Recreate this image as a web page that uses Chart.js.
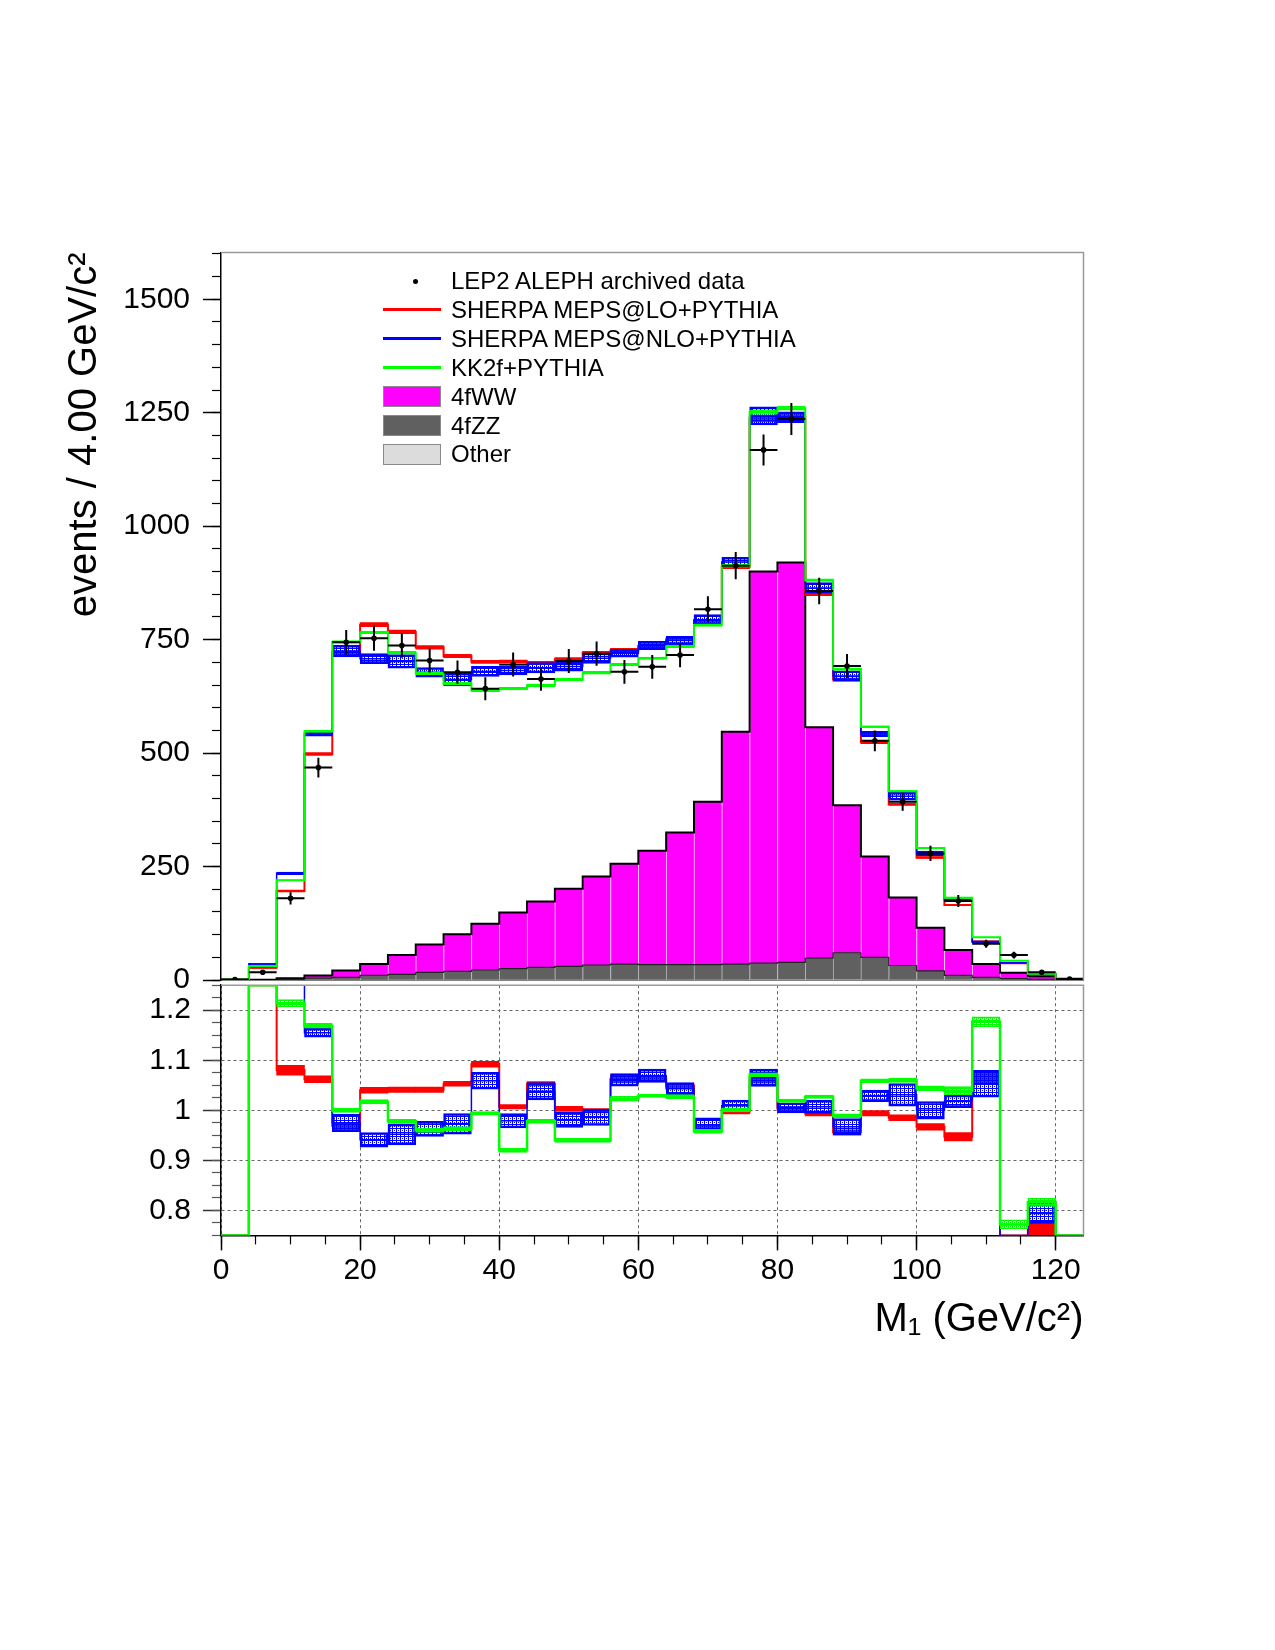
<!DOCTYPE html>
<html>
<head>
<meta charset="utf-8">
<title>M1 distribution, LEP2 ALEPH</title>
<script src="https://cdn.jsdelivr.net/npm/chart.js@4.4.1/dist/chart.umd.min.js"></script>
<style>
  html, body { margin: 0; padding: 0; background: #fff; }
  #wrap { position: relative; width: 1275px; height: 1650px; font-family: "Liberation Sans", Arial, Helvetica, sans-serif; }
  #wrap canvas { position: absolute; left: 0; top: 0; }
  .legText { position: absolute; left: 451px; font-size: 24px; line-height: 28px; height: 28px; color: #000; white-space: nowrap; }
  .legSwatch { position: absolute; box-sizing: border-box; }
</style>
</head>
<body>
<div id="wrap">
  <canvas id="ratioChart" width="1275" height="1650"></canvas>
  <canvas id="mainChart" width="1275" height="1650"></canvas>
  <div id="legend"></div>
</div>
<script>
// Bins de 4 GeV/c2 entre 0 et 124
const binCenters = [2, 6, 10, 14, 18, 22, 26, 30, 34, 38, 42, 46, 50, 54, 58, 62, 66, 70, 74, 78, 82, 86, 90, 94, 98, 102, 106, 110, 114, 118, 122];
const binWidth = 4;

// Donnees ALEPH (evenements / bin)
const dataCounts = [1, 17, 180, 468, 744, 753, 737, 704, 678, 642, 695, 663, 703, 719, 679, 690, 716, 817, 913, 1168, 1236, 857, 692, 527, 393, 279, 174, 80, 55, 17, 2];

// Predictions MC (panneau du haut) et demi-largeur des bandes
const sherpaLO = [1, 27, 196, 498, 720, 783, 767, 733, 714, 701, 702, 699, 707, 721, 726, 735, 751, 791, 910, 1237, 1240, 851, 662, 524, 387, 270, 165, 85, 37, 13, 1];
const sherpaLOErr = [0.2, 1, 2, 3, 4, 4.5, 4, 4, 3.5, 3.5, 3, 3, 3.5, 3, 5, 3.5, 3, 2.5, 3.5, 7, 6, 4, 3.5, 3, 2.2, 1.9, 1.4, 1, 0.6, 0.2, 0.1];
const sherpaNLO = [1, 35, 235, 542, 725, 708, 702, 678, 662, 680, 682, 688, 691, 709, 720, 737, 748, 794, 921, 1243, 1240, 864, 670, 542, 405, 279, 177, 84, 38, 13.5, 1];
const sherpaNLOErr = [0.3, 1.5, 3, 5, 13, 11, 15, 10.5, 14, 11, 10, 11.5, 10.5, 11.5, 8.5, 9, 9, 11, 10.5, 20, 12, 11.5, 11.5, 6, 8.9, 4.9, 2.2, 2.2, 1, 0.35, 0.1];
const kk2f = [1, 31, 220, 548, 745, 766, 721, 676, 653, 638, 642, 649, 662, 677, 695, 709, 735, 782, 913, 1251, 1260, 881, 685, 558, 416, 291, 181, 94, 42.5, 14, 1];
const kk2fErr = [0.1, 0.8, 1.5, 2.5, 3, 3, 3, 3, 3, 2.5, 3, 3, 3, 3, 3, 2.5, 3, 3, 3.5, 5, 4.5, 3, 3, 2, 1.7, 1.3, 1.5, 0.8, 0.4, 0.15, 0.05];

// Fonds empiles
const ww4f = [0, 0.5, 2, 6, 15, 25, 42.5, 61, 82, 102, 124, 145, 171, 195, 221, 251, 291, 359, 512, 863, 881, 509, 325, 222, 150, 95, 56, 29, 13, 6.5, 2.2];
const zz4f = [0, 0, 2, 3.5, 5.5, 9.5, 11.5, 16, 18, 21, 24, 27, 29, 32, 34, 33, 33, 33, 34, 35.5, 37.5, 46.5, 58.5, 49, 31, 19, 9, 5.5, 2.5, 1, 0.3];
const otherBkg = [0, 0, 0, 0.5, 0.5, 0.5, 1, 1, 1, 1, 1, 1, 1, 1, 1, 1, 1, 1, 1, 1.5, 1.5, 1.5, 1.5, 1, 1, 1, 1, 0.5, 0.5, 0.5, 0.5];

// Rapport MC / donnees (panneau du bas) et demi-largeur des bandes
const ratioLO = [0.5, 1.6, 1.080, 1.062, 0.969, 1.040, 1.041, 1.041, 1.053, 1.092, 1.007, 1.053, 1.003, 0.999, 1.063, 1.063, 1.049, 0.967, 0.997, 1.061, 1.003, 0.993, 0.956, 0.994, 0.985, 0.967, 0.947, 1.066, 0.68, 0.763, 0.5];
const ratioLOErr = [0, 0, 0.010, 0.0067, 0.006, 0.0057, 0.0053, 0.0053, 0.005, 0.0057, 0.0043, 0.0043, 0.005, 0.0043, 0.008, 0.005, 0.0043, 0.003, 0.004, 0.0067, 0.005, 0.0043, 0.005, 0.0053, 0.0057, 0.0067, 0.0083, 0.0117, 0.012, 0.0117, 0];
const ratioNLO = [0.5, 2.0, 1.30, 1.155, 0.975, 0.941, 0.952, 0.963, 0.973, 1.059, 0.979, 1.038, 0.981, 0.986, 1.061, 1.069, 1.043, 0.971, 1.009, 1.065, 1.005, 1.007, 0.967, 1.029, 1.031, 1.000, 1.018, 1.053, 0.69, 0.794, 0.5];
const ratioNLOErr = [0, 0, 0.012, 0.009, 0.0176, 0.0146, 0.021, 0.015, 0.0206, 0.017, 0.0143, 0.0173, 0.015, 0.0163, 0.0126, 0.0133, 0.0126, 0.014, 0.0116, 0.0173, 0.01, 0.0133, 0.0166, 0.0116, 0.0226, 0.0176, 0.0126, 0.027, 0.02, 0.02, 0];
const ratioKK = [0.5, 1.8, 1.214, 1.169, 1.000, 1.017, 0.978, 0.960, 0.963, 0.994, 0.920, 0.978, 0.940, 0.940, 1.023, 1.029, 1.027, 0.958, 1.001, 1.071, 1.019, 1.027, 0.989, 1.059, 1.060, 1.044, 1.039, 1.177, 0.772, 0.816, 0.5];
const ratioKKErr = [0, 0, 0.0073, 0.005, 0.004, 0.0043, 0.004, 0.0043, 0.0043, 0.0035, 0.004, 0.004, 0.004, 0.004, 0.005, 0.0035, 0.0043, 0.004, 0.004, 0.004, 0.0035, 0.0035, 0.004, 0.0037, 0.0043, 0.0047, 0.0083, 0.01, 0.0093, 0.0083, 0];

// Graduations
const mainYMajor = [0, 250, 500, 750, 1000, 1250, 1500];
const ratioYMajor = [0.8, 0.9, 1, 1.1, 1.2];
const xMajor = [0, 20, 40, 60, 80, 100, 120];

const FONT = "'Liberation Sans', Arial, Helvetica, sans-serif";
const RED = '#ff0000', BLUE = '#0000ff', GREEN = '#00ff00';
const MAGENTA = '#ff00ff', ZZGRAY = '#606060', OTHERGRAY = '#dcdcdc';

Chart.defaults.font.family = FONT;
Chart.defaults.color = '#000';

function range(from, to, step) {
    const out = [];
    for (let v = from; v <= to + 1e-9; v += step) out.push(Math.round(v * 1000) / 1000);
    return out;
}
const mainYMinor = range(0, 1600, 50);
const ratioYMinor = range(0.75, 1.25, 0.025);
const xMinor = range(0, 120, 5);

const setTicks = list => scale => { scale.ticks = list.map(v => ({ value: v })); };

// Motif hachure a la ROOT (trous transparents)
function makePattern(color) {
    const tile = document.createElement('canvas');
    tile.width = 4;
    tile.height = 4;
    const t = tile.getContext('2d');
    t.fillStyle = color;
    t.fillRect(0, 0, 4, 1);
    t.fillRect(0, 0, 1, 4);
    t.fillRect(2, 2, 1, 1);
    return t.createPattern(tile, 'repeat');
}
const bluePattern = makePattern(BLUE);
const greenPattern = makePattern(GREEN);

// Histogramme en escalier: un point par bord gauche + le dernier bord droit
function binSteps(values) {
    const pts = values.map((v, i) => ({ x: binCenters[i] - binWidth / 2, y: v }));
    pts.push({ x: binCenters[binCenters.length - 1] + binWidth / 2, y: values[values.length - 1] });
    return pts;
}

function stepLine(label, values, color, width, order) {
    return {
        type: 'line', label, data: binSteps(values), stepped: true,
        borderColor: color, borderWidth: width, pointRadius: 0, fill: false, order
    };
}

function floatBars(label, lo, hi, fill, border, borderWidth, order, clip) {
    return {
        type: 'bar', label,
        data: lo.map((v, i) => ({ x: binCenters[i], y: [v, hi[i]] })),
        backgroundColor: fill, borderColor: border, borderWidth, borderSkipped: false,
        grouped: false, barPercentage: 1, categoryPercentage: 1, order, clip
    };
}

function band(label, values, errs, fill, border, borderWidth, order, clip) {
    const lo = values.map((v, i) => v - errs[i]);
    const hi = values.map((v, i) => v + errs[i]);
    return floatBars(label, lo, hi, fill, border, borderWidth, order, clip);
}

// Cadre gris (haut et droite) comme dans ROOT
const framePlugin = {
    id: 'frame',
    afterDatasetsDraw(chart) {
        const { ctx, chartArea: a } = chart;
        ctx.save();
        ctx.strokeStyle = '#9a9a9a';
        ctx.lineWidth = 1.5;
        ctx.beginPath();
        ctx.moveTo(a.left, a.top);
        ctx.lineTo(a.right, a.top);
        ctx.lineTo(a.right, a.bottom);
        ctx.stroke();
        ctx.restore();
    }
};

// ---------- Panneau du haut ----------
const zzTop = zz4f.map((v, i) => v + otherBkg[i]);
const stackTop = ww4f.map((v, i) => v + zzTop[i]);
const zeros = binCenters.map(() => 0);

const errV = [];
const errH = [];
binCenters.forEach((c, i) => {
    const n = dataCounts[i];
    const e = Math.sqrt(n);
    errV.push({ x: c, y: n - e }, { x: c, y: n + e }, { x: c, y: null });
    errH.push({ x: c - binWidth / 2, y: n }, { x: c + binWidth / 2, y: n }, { x: c + binWidth / 2, y: null });
});

new Chart(document.getElementById('mainChart'), {
    type: 'line',
    data: {
        datasets: [
            { type: 'line', label: 'LEP2 ALEPH archived data', data: binCenters.map((c, i) => ({ x: c, y: dataCounts[i] })),
              showLine: false, pointRadius: 2.8, pointBackgroundColor: '#000', pointBorderWidth: 0, order: 0 },
            { type: 'line', label: 'err-v', data: errV, borderColor: '#000', borderWidth: 2, pointRadius: 0, spanGaps: false, order: 0 },
            { type: 'line', label: 'err-h', data: errH, borderColor: '#000', borderWidth: 2, pointRadius: 0, spanGaps: false, order: 0 },
            stepLine('KK2f+PYTHIA', kk2f, GREEN, 2, 1),
            band('KK2f band', kk2f, kk2fErr, greenPattern, GREEN, 1, 2),
            stepLine('SHERPA MEPS@NLO+PYTHIA', sherpaNLO, BLUE, 1.5, 3),
            band('NLO band', sherpaNLO, sherpaNLOErr, bluePattern, BLUE, 2, 4),
            stepLine('SHERPA MEPS@LO+PYTHIA', sherpaLO, RED, 2, 5),
            band('LO band', sherpaLO, sherpaLOErr, RED, RED, 0, 6),
            stepLine('stack outline', stackTop, '#000', 2, 7),
            stepLine('zz outline', zzTop, '#222', 1.2, 8),
            floatBars('4fWW', zzTop, stackTop, MAGENTA, 'rgba(255,200,255,0.8)', { left: 1, top: 0, right: 0, bottom: 0 }, 9),
            floatBars('4fZZ', otherBkg, zzTop, ZZGRAY, 'rgba(170,170,170,0.8)', { left: 1, top: 0, right: 0, bottom: 0 }, 10),
            floatBars('Other', zeros, otherBkg, OTHERGRAY, OTHERGRAY, 0, 11)
        ]
    },
    options: {
        responsive: false,
        animation: false,
        devicePixelRatio: 1,
        events: [],
        layout: { padding: { left: 0, right: 191.5, top: 252.5, bottom: 670 } },
        plugins: { legend: { display: false }, tooltip: { enabled: false } },
        scales: {
            x: {
                type: 'linear', position: 'bottom', min: 0, max: 124, offset: false, z: 1,
                afterBuildTicks: setTicks(xMajor),
                ticks: { display: false },
                grid: { display: false, offset: false },
                border: { display: true, color: '#000', width: 1.5 },
                afterFit: s => { s.height = 0; }
            },
            y: {
                type: 'linear', position: 'left', weight: 1, min: 0, max: 1603, z: 1,
                afterBuildTicks: setTicks(mainYMajor),
                ticks: { font: { size: 30 }, color: '#000', padding: 13, autoSkip: false, callback: v => String(v) },
                grid: { drawOnChartArea: false, tickLength: 18, tickColor: '#000', tickWidth: 1.5 },
                border: { color: '#000', width: 1.5 },
                title: { display: true, text: 'events / 4.00 GeV/c²', align: 'end', color: '#000',
                         font: { size: 40 }, padding: { top: 61, bottom: 0 } },
                afterFit: s => { s.width = 221; }
            },
            yMinor: {
                type: 'linear', position: 'left', weight: 0, min: 0, max: 1603, z: 1,
                afterBuildTicks: setTicks(mainYMinor),
                ticks: { display: false },
                grid: { drawOnChartArea: false, tickLength: 9, tickColor: '#000', tickWidth: 1.2 },
                border: { display: false },
                afterFit: s => { s.width = 0; }
            }
        }
    },
    plugins: [framePlugin]
});

// ---------- Panneau du rapport ----------
const ratioMin = 0.75, ratioMax = 1.25;
const clampR = arr => arr.map(v => Math.min(Math.max(v, ratioMin), ratioMax));

new Chart(document.getElementById('ratioChart'), {
    type: 'line',
    data: {
        datasets: [
            stepLine('KK2f ratio', clampR(ratioKK), GREEN, 2.5, 1),
            band('KK2f ratio band', ratioKK, ratioKKErr, greenPattern, GREEN, 1, 2, 0),
            stepLine('NLO ratio', clampR(ratioNLO), BLUE, 1.5, 3),
            band('NLO ratio band', ratioNLO, ratioNLOErr, bluePattern, BLUE, 2, 4, 0),
            stepLine('LO ratio', clampR(ratioLO), RED, 2, 5),
            band('LO ratio band', ratioLO, ratioLOErr, RED, RED, 0, 6, 0)
        ]
    },
    options: {
        responsive: false,
        animation: false,
        devicePixelRatio: 1,
        events: [],
        layout: { padding: { left: 0, right: 191.5, top: 985.2, bottom: 304.6 } },
        plugins: { legend: { display: false }, tooltip: { enabled: false } },
        scales: {
            x: {
                type: 'linear', position: 'bottom', weight: 1, min: 0, max: 124, offset: false, z: 1,
                afterBuildTicks: setTicks(xMajor),
                ticks: { font: { size: 30 }, color: '#000', padding: 2, autoSkip: false, maxRotation: 0, callback: v => String(v) },
                grid: { drawOnChartArea: true, offset: false, color: '#666', lineWidth: 1, tickLength: 15, tickColor: '#000', tickWidth: 1.5 },
                border: { color: '#000', width: 1.5, dash: [3, 3] },
                title: { display: true, text: 'M₁ (GeV/c²)', align: 'end', color: '#000',
                         font: { size: 40 }, padding: { top: 0, bottom: 1.5 } },
                afterFit: s => { s.height = 110; }
            },
            xMinor: {
                type: 'linear', position: 'bottom', weight: 0, min: 0, max: 124, offset: false, z: 1,
                afterBuildTicks: setTicks(xMinor),
                ticks: { display: false },
                grid: { drawOnChartArea: false, offset: false, tickLength: 9, tickColor: '#000', tickWidth: 1.2 },
                border: { display: false },
                afterFit: s => { s.height = 0; }
            },
            y: {
                type: 'linear', position: 'left', weight: 1, min: ratioMin, max: ratioMax, z: 1,
                afterBuildTicks: setTicks(ratioYMajor),
                ticks: { font: { size: 30 }, color: '#000', padding: 12, autoSkip: false, callback: v => String(v) },
                grid: { drawOnChartArea: true, color: '#666', lineWidth: 1, tickLength: 18, tickColor: '#333', tickWidth: 1.5 },
                border: { color: '#000', width: 1.5, dash: [3, 3] },
                afterFit: s => { s.width = 221; }
            },
            yMinor: {
                type: 'linear', position: 'left', weight: 0, min: ratioMin, max: ratioMax, z: 1,
                afterBuildTicks: setTicks(ratioYMinor),
                ticks: { display: false },
                grid: { drawOnChartArea: false, tickLength: 9, tickColor: '#555', tickWidth: 1.2 },
                border: { display: false },
                afterFit: s => { s.width = 0; }
            }
        }
    },
    plugins: [framePlugin]
});

// ---------- Legende ----------
const legendEntries = [
    { label: 'LEP2 ALEPH archived data', kind: 'marker', color: '#000' },
    { label: 'SHERPA MEPS@LO+PYTHIA', kind: 'line', color: RED },
    { label: 'SHERPA MEPS@NLO+PYTHIA', kind: 'line', color: BLUE },
    { label: 'KK2f+PYTHIA', kind: 'line', color: GREEN },
    { label: '4fWW', kind: 'box', color: MAGENTA },
    { label: '4fZZ', kind: 'box', color: ZZGRAY },
    { label: 'Other', kind: 'box', color: OTHERGRAY }
];

const legendDiv = document.getElementById('legend');
legendEntries.forEach((entry, i) => {
    const cy = 281 + i * 28.9;
    const sw = document.createElement('div');
    sw.className = 'legSwatch';
    if (entry.kind === 'marker') {
        Object.assign(sw.style, { left: '413px', top: (cy - 2.5) + 'px', width: '5px', height: '5px', borderRadius: '50%', background: entry.color });
    } else if (entry.kind === 'line') {
        Object.assign(sw.style, { left: '383px', top: (cy - 1.5) + 'px', width: '58px', height: '3px', background: entry.color });
    } else {
        Object.assign(sw.style, { left: '383px', top: (cy - 10.5) + 'px', width: '58px', height: '21px', background: entry.color, border: '1px solid #8a8a8a' });
    }
    legendDiv.appendChild(sw);

    const txt = document.createElement('div');
    txt.className = 'legText';
    txt.style.top = (cy - 14) + 'px';
    txt.textContent = entry.label;
    legendDiv.appendChild(txt);
});
</script>
</body>
</html>
